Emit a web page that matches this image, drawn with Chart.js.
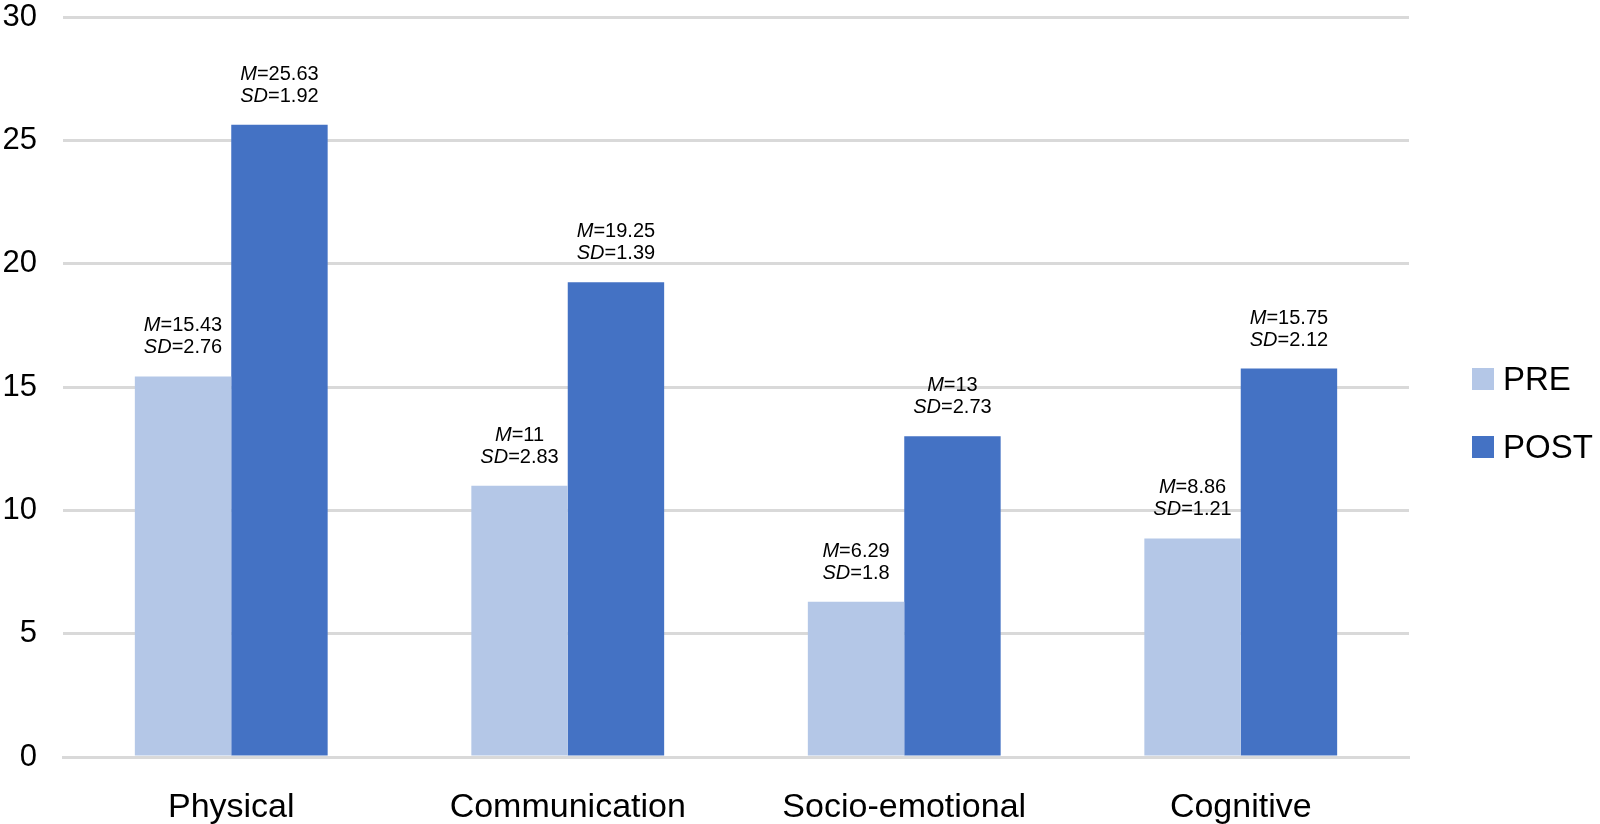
<!DOCTYPE html>
<html>
<head>
<meta charset="utf-8">
<script src="https://cdn.jsdelivr.net/npm/chart.js@4"></script>
<style>
  html, body { margin: 0; padding: 0; background: #fff; }
  #wrap { width: 1600px; height: 824px; position: relative; }
</style>
</head>
<body>
<div id="wrap"><canvas id="chart"></canvas></div>
<script>
const categories = ['Physical', 'Communication', 'Socio-emotional', 'Cognitive'];
const preMeans = [15.43, 11, 6.29, 8.86];
const postMeans = [25.63, 19.25, 13, 15.75];
const preSD = [2.76, 2.83, 1.8, 1.21];
const postSD = [1.92, 1.39, 2.73, 2.12];
const yTicks = [0, 5, 10, 15, 20, 25, 30];

const FONT = "'Liberation Sans', Arial, sans-serif";
const GRID = '#d9d9d9';

// M= / SD= labels above each bar
const statLabels = {
  id: 'statLabels',
  afterDatasetsDraw(chart) {
    const ctx = chart.ctx;
    const sds = [preSD, postSD];
    ctx.save();
    ctx.fillStyle = '#000';
    ctx.textBaseline = 'alphabetic';
    chart.data.datasets.forEach((ds, di) => {
      const meta = chart.getDatasetMeta(di);
      meta.data.forEach((bar, i) => {
        const lines = [
          ['M', '=' + ds.data[i]],
          ['SD', '=' + sds[di][i]]
        ];
        lines.forEach((parts, li) => {
          const y = bar.y - 23 - (1 - li) * 22;
          ctx.font = 'italic 20px ' + FONT;
          const w1 = ctx.measureText(parts[0]).width;
          ctx.font = '20px ' + FONT;
          const w2 = ctx.measureText(parts[1]).width;
          const x0 = bar.x - (w1 + w2) / 2;
          ctx.font = 'italic 20px ' + FONT;
          ctx.textAlign = 'left';
          ctx.fillText(parts[0], x0, y);
          ctx.font = '20px ' + FONT;
          ctx.fillText(parts[1], x0 + w1, y);
        });
      });
    });
    ctx.restore();
  }
};

// legend drawn at the right, like the original
const sideLegend = {
  id: 'sideLegend',
  afterDraw(chart) {
    const ctx = chart.ctx;
    const x = chart.chartArea.right + 63;
    ctx.save();
    ctx.font = '33px ' + FONT;
    ctx.textBaseline = 'alphabetic';
    ctx.textAlign = 'left';
    chart.data.datasets.forEach((ds, i) => {
      const top = 368 + i * 68;
      ctx.fillStyle = ds.backgroundColor;
      ctx.fillRect(x, top, 22, 22);
      ctx.fillStyle = '#000';
      ctx.fillText(ds.label, x + 31, top + 22);
    });
    ctx.restore();
  }
};

const chart = new Chart(document.getElementById('chart'), {
  type: 'bar',
  data: {
    labels: categories,
    datasets: [
      { label: 'PRE', data: preMeans, backgroundColor: '#b4c7e7' },
      { label: 'POST', data: postMeans, backgroundColor: '#4472c4' }
    ]
  },
  options: {
    responsive: true,
    maintainAspectRatio: false,
    animation: false,
    categoryPercentage: 0.573,
    barPercentage: 1,
    layout: { padding: { top: 17, right: 191, left: 0, bottom: 0 } },
    plugins: {
      legend: { display: false },
      tooltip: { enabled: false }
    },
    scales: {
      x: {
        grid: { display: false, drawTicks: false },
        border: { display: true, color: GRID, width: 3 },
        ticks: { color: '#000', padding: 30, font: { family: FONT, size: 34 } },
        afterFit(s) { s.height = 67; s.paddingLeft = 0; s.paddingRight = 0; }
      },
      y: {
        min: 0,
        max: 30,
        afterBuildTicks(s) { s.ticks = yTicks.map(v => ({ value: v })); },
        grid: { color: GRID, lineWidth: 3, drawTicks: false },
        border: { display: false },
        ticks: { color: '#000', padding: 26, font: { family: FONT, size: 31 } },
        afterFit(s) { s.width = 63; s.paddingTop = 0; s.paddingBottom = 0; }
      }
    }
  },
  plugins: [statLabels, sideLegend]
});
</script>
</body>
</html>
